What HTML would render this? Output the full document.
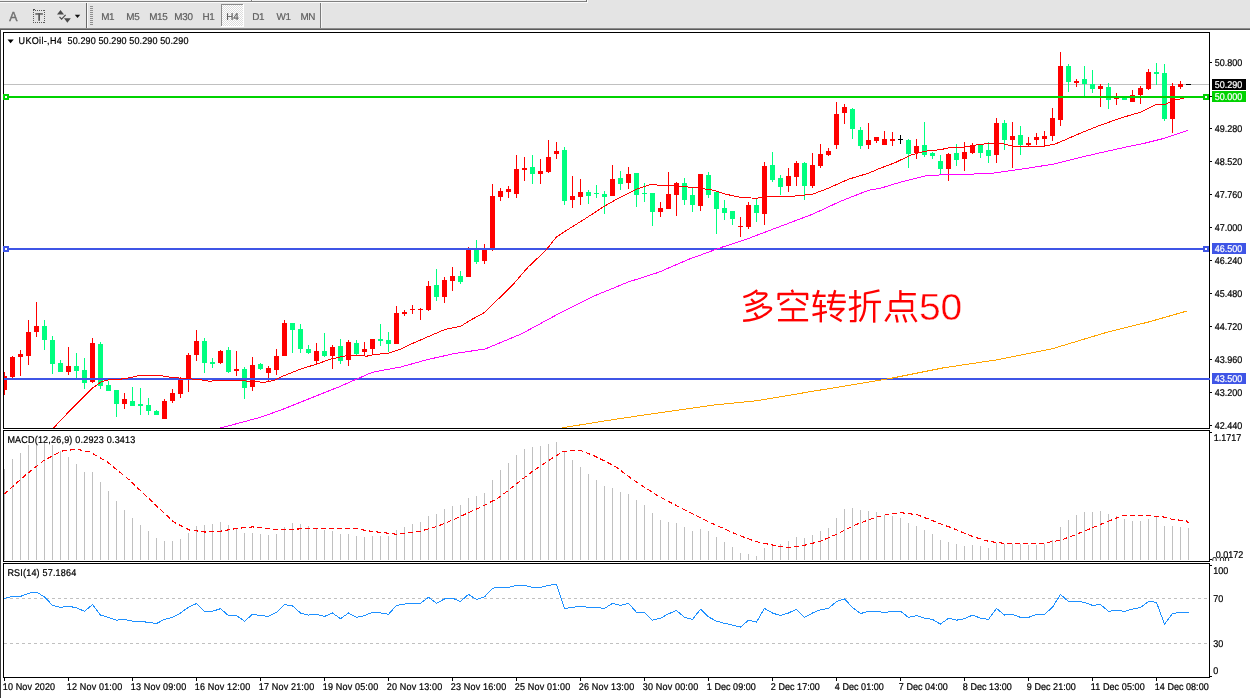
<!DOCTYPE html>
<html><head><meta charset="utf-8"><title>UKOil H4</title>
<style>
html,body{margin:0;padding:0;background:#fff;overflow:hidden}
body{width:1250px;height:698px;font-family:"Liberation Sans",sans-serif}
svg{display:block;font-family:"Liberation Sans",sans-serif;transform:translateZ(0);will-change:transform}
text{white-space:pre}
</style></head><body>
<svg width="1250" height="698" viewBox="0 0 1250 698">
<rect x="0" y="0" width="1250" height="30" fill="#E4E4E4" />
<rect x="0" y="0" width="586" height="1" fill="#F0F0F0" />
<rect x="0" y="1" width="587" height="1" fill="#808080" />
<rect x="0" y="2" width="588" height="1" fill="#FAFAFA" />
<rect x="586" y="0" width="1" height="2" fill="#707070" />
<rect x="587" y="0" width="1" height="3" fill="#FAFAFA" />
<rect x="251" y="0" width="1" height="2" fill="#808080" />
<rect x="252" y="0" width="1" height="1" fill="#FAFAFA" />
<rect x="0" y="28" width="1250" height="1" fill="#8C8C8C" />
<rect x="0" y="29" width="1250" height="1" fill="#5A5A5A" />
<rect x="0" y="30" width="1250" height="668" fill="#FFFFFF" />
<rect x="0" y="30" width="1" height="668" fill="#3A3A3A" />
<text x="9.3" y="20.8" font-size="12.3" fill="#707070" stroke="#707070" stroke-width="0.45" >A</text>
<rect x="33" y="10" width="1" height="1" fill="#5A5A5A" shape-rendering="crispEdges"/>
<rect x="33" y="22" width="1" height="1" fill="#5A5A5A" shape-rendering="crispEdges"/>
<rect x="35" y="10" width="1" height="1" fill="#5A5A5A" shape-rendering="crispEdges"/>
<rect x="35" y="22" width="1" height="1" fill="#5A5A5A" shape-rendering="crispEdges"/>
<rect x="37" y="10" width="1" height="1" fill="#5A5A5A" shape-rendering="crispEdges"/>
<rect x="37" y="22" width="1" height="1" fill="#5A5A5A" shape-rendering="crispEdges"/>
<rect x="39" y="10" width="1" height="1" fill="#5A5A5A" shape-rendering="crispEdges"/>
<rect x="39" y="22" width="1" height="1" fill="#5A5A5A" shape-rendering="crispEdges"/>
<rect x="41" y="10" width="1" height="1" fill="#5A5A5A" shape-rendering="crispEdges"/>
<rect x="41" y="22" width="1" height="1" fill="#5A5A5A" shape-rendering="crispEdges"/>
<rect x="43" y="10" width="1" height="1" fill="#5A5A5A" shape-rendering="crispEdges"/>
<rect x="43" y="22" width="1" height="1" fill="#5A5A5A" shape-rendering="crispEdges"/>
<rect x="33" y="10" width="1" height="1" fill="#5A5A5A" shape-rendering="crispEdges"/>
<rect x="44" y="10" width="1" height="1" fill="#5A5A5A" shape-rendering="crispEdges"/>
<rect x="33" y="12" width="1" height="1" fill="#5A5A5A" shape-rendering="crispEdges"/>
<rect x="44" y="12" width="1" height="1" fill="#5A5A5A" shape-rendering="crispEdges"/>
<rect x="33" y="14" width="1" height="1" fill="#5A5A5A" shape-rendering="crispEdges"/>
<rect x="44" y="14" width="1" height="1" fill="#5A5A5A" shape-rendering="crispEdges"/>
<rect x="33" y="16" width="1" height="1" fill="#5A5A5A" shape-rendering="crispEdges"/>
<rect x="44" y="16" width="1" height="1" fill="#5A5A5A" shape-rendering="crispEdges"/>
<rect x="33" y="18" width="1" height="1" fill="#5A5A5A" shape-rendering="crispEdges"/>
<rect x="44" y="18" width="1" height="1" fill="#5A5A5A" shape-rendering="crispEdges"/>
<rect x="33" y="20" width="1" height="1" fill="#5A5A5A" shape-rendering="crispEdges"/>
<rect x="44" y="20" width="1" height="1" fill="#5A5A5A" shape-rendering="crispEdges"/>
<rect x="33" y="22" width="1" height="1" fill="#5A5A5A" shape-rendering="crispEdges"/>
<rect x="44" y="22" width="1" height="1" fill="#5A5A5A" shape-rendering="crispEdges"/>
<rect x="33" y="9" width="2" height="1" fill="#4A4A4A" />
<rect x="35.3" y="13.2" width="7.6" height="1.5" fill="#5A5A5A" />
<rect x="38.3" y="13.2" width="1.7" height="7.6" fill="#5A5A5A" />
<path d="M57 14.5 L60.5 10 L64 14.5 Z" fill="#4A4A4A"/>
<path d="M64 18.3 L70.8 18.3 L67.4 22.8 Z" fill="#4A4A4A"/>
<path d="M59.5 16.8 L61.6 19.2 L65.6 14.8" fill="none" stroke="#4A4A4A" stroke-width="1.2"/>
<path d="M74.8 14.8 L80.2 14.8 L77.5 18 Z" fill="#111"/>
<rect x="86" y="3" width="1" height="25" fill="#6A6A6A" />
<rect x="87" y="3" width="1" height="25" fill="#F8F8F8" />
<rect x="90" y="6" width="3" height="1" fill="#8E8E8E" />
<rect x="90" y="8" width="3" height="1" fill="#8E8E8E" />
<rect x="90" y="10" width="3" height="1" fill="#8E8E8E" />
<rect x="90" y="12" width="3" height="1" fill="#8E8E8E" />
<rect x="90" y="14" width="3" height="1" fill="#8E8E8E" />
<rect x="90" y="16" width="3" height="1" fill="#8E8E8E" />
<rect x="90" y="18" width="3" height="1" fill="#8E8E8E" />
<rect x="90" y="20" width="3" height="1" fill="#8E8E8E" />
<rect x="90" y="22" width="3" height="1" fill="#8E8E8E" />
<rect x="90" y="24" width="3" height="1" fill="#8E8E8E" />
<defs><pattern id="chk" width="2" height="2" patternUnits="userSpaceOnUse"><rect width="2" height="2" fill="#FFFFFF"/><rect width="1" height="1" fill="#DCDCDC"/><rect x="1" y="1" width="1" height="1" fill="#DCDCDC"/></pattern></defs>
<rect x="221" y="4" width="22" height="23" fill="url(#chk)" />
<rect x="221" y="4" width="22" height="1" fill="#8A8A8A" />
<rect x="221" y="4" width="1" height="23" fill="#8A8A8A" />
<rect x="221" y="26" width="23" height="1" fill="#FFFFFF" />
<rect x="243" y="4" width="1" height="23" fill="#FFFFFF" />
<text x="101.2" y="20" font-size="9.9" fill="#5E5E5E" stroke="#5E5E5E" stroke-width="0.2" letter-spacing="-0.3" text-rendering="geometricPrecision">M1</text>
<text x="126.3" y="20" font-size="9.9" fill="#5E5E5E" stroke="#5E5E5E" stroke-width="0.2" letter-spacing="-0.3" text-rendering="geometricPrecision">M5</text>
<text x="149.2" y="20" font-size="9.9" fill="#5E5E5E" stroke="#5E5E5E" stroke-width="0.2" letter-spacing="-0.3" text-rendering="geometricPrecision">M15</text>
<text x="174.3" y="20" font-size="9.9" fill="#5E5E5E" stroke="#5E5E5E" stroke-width="0.2" letter-spacing="-0.3" text-rendering="geometricPrecision">M30</text>
<text x="202.5" y="20" font-size="9.9" fill="#5E5E5E" stroke="#5E5E5E" stroke-width="0.2" letter-spacing="-0.3" text-rendering="geometricPrecision">H1</text>
<text x="226.3" y="20" font-size="9.9" fill="#5E5E5E" stroke="#5E5E5E" stroke-width="0.2" letter-spacing="-0.3" text-rendering="geometricPrecision">H4</text>
<text x="252.2" y="20" font-size="9.9" fill="#5E5E5E" stroke="#5E5E5E" stroke-width="0.2" letter-spacing="-0.3" text-rendering="geometricPrecision">D1</text>
<text x="276.6" y="20" font-size="9.9" fill="#5E5E5E" stroke="#5E5E5E" stroke-width="0.2" letter-spacing="-0.3" text-rendering="geometricPrecision">W1</text>
<text x="300.4" y="20" font-size="9.9" fill="#5E5E5E" stroke="#5E5E5E" stroke-width="0.2" letter-spacing="-0.3" text-rendering="geometricPrecision">MN</text>
<rect x="320" y="3" width="1" height="25" fill="#7A7A7A" />
<rect x="321" y="3" width="1" height="25" fill="#F4F4F4" />
<rect x="3" y="32" width="1207" height="1" fill="#000" />
<rect x="3" y="32" width="1" height="646" fill="#000" />
<rect x="3" y="428" width="1207" height="1" fill="#000" />
<rect x="3" y="430" width="1207" height="1" fill="#000" />
<rect x="4" y="429" width="1205" height="1" fill="#fff" />
<rect x="3" y="561" width="1207" height="1" fill="#000" />
<rect x="3" y="563" width="1207" height="1" fill="#000" />
<rect x="4" y="562" width="1205" height="1" fill="#fff" />
<rect x="3" y="677" width="1207" height="1" fill="#000" />
<rect x="1209" y="32" width="1" height="646" fill="#000" />
<rect x="1209" y="429" width="1" height="1" fill="#fff" />
<rect x="1209" y="562" width="1" height="1" fill="#fff" />
<rect x="3" y="429" width="1" height="1" fill="#fff" />
<rect x="3" y="562" width="1" height="1" fill="#fff" />
<clipPath id="cm"><rect x="4" y="33" width="1205" height="395"/></clipPath>
<g clip-path="url(#cm)" shape-rendering="crispEdges">
<rect x="4" y="84" width="1205" height="1" fill="#C0C0C0" />
<rect x="4" y="372" width="1" height="23" fill="#FF0000" />
<rect x="2" y="376" width="5" height="14" fill="#FF0000" />
<rect x="12" y="356" width="1" height="22" fill="#FF0000" />
<rect x="10" y="357" width="5" height="20" fill="#FF0000" />
<rect x="20" y="350" width="1" height="26" fill="#FF0000" />
<rect x="18" y="354" width="5" height="3" fill="#FF0000" />
<rect x="28" y="320" width="1" height="45" fill="#FF0000" />
<rect x="26" y="332" width="5" height="24" fill="#FF0000" />
<rect x="36" y="302" width="1" height="35" fill="#FF0000" />
<rect x="34" y="326" width="5" height="6" fill="#FF0000" />
<rect x="44" y="320" width="1" height="30" fill="#00FF7F" />
<rect x="42" y="326" width="5" height="14" fill="#00FF7F" />
<rect x="52" y="336" width="1" height="38" fill="#00FF7F" />
<rect x="50" y="340" width="5" height="24" fill="#00FF7F" />
<rect x="60" y="360" width="1" height="12" fill="#00FF7F" />
<rect x="58" y="363" width="5" height="9" fill="#00FF7F" />
<rect x="68" y="347" width="1" height="28" fill="#FF0000" />
<rect x="66" y="366" width="5" height="6" fill="#FF0000" />
<rect x="76" y="353" width="1" height="25" fill="#00FF7F" />
<rect x="74" y="366" width="5" height="5" fill="#00FF7F" />
<rect x="84" y="358" width="1" height="31" fill="#00FF7F" />
<rect x="82" y="370" width="5" height="13" fill="#00FF7F" />
<rect x="92" y="338" width="1" height="45" fill="#FF0000" />
<rect x="90" y="343" width="5" height="39" fill="#FF0000" />
<rect x="100" y="342" width="1" height="47" fill="#00FF7F" />
<rect x="98" y="344" width="5" height="42" fill="#00FF7F" />
<rect x="108" y="381" width="1" height="10" fill="#00FF7F" />
<rect x="106" y="385" width="5" height="6" fill="#00FF7F" />
<rect x="116" y="390" width="1" height="27" fill="#00FF7F" />
<rect x="114" y="390" width="5" height="14" fill="#00FF7F" />
<rect x="124" y="393" width="1" height="16" fill="#FF0000" />
<rect x="122" y="399" width="5" height="5" fill="#FF0000" />
<rect x="132" y="387" width="1" height="19" fill="#00FF7F" />
<rect x="130" y="401" width="5" height="5" fill="#00FF7F" />
<rect x="140" y="388" width="1" height="27" fill="#00FF7F" />
<rect x="138" y="404" width="5" height="2" fill="#00FF7F" />
<rect x="148" y="398" width="1" height="17" fill="#00FF7F" />
<rect x="146" y="405" width="5" height="6" fill="#00FF7F" />
<rect x="156" y="410" width="1" height="5" fill="#00FF7F" />
<rect x="154" y="411" width="5" height="4" fill="#00FF7F" />
<rect x="164" y="399" width="1" height="20" fill="#FF0000" />
<rect x="162" y="401" width="5" height="18" fill="#FF0000" />
<rect x="172" y="389" width="1" height="14" fill="#FF0000" />
<rect x="170" y="393" width="5" height="8" fill="#FF0000" />
<rect x="180" y="377" width="1" height="21" fill="#FF0000" />
<rect x="178" y="379" width="5" height="15" fill="#FF0000" />
<rect x="188" y="353" width="1" height="39" fill="#FF0000" />
<rect x="186" y="355" width="5" height="24" fill="#FF0000" />
<rect x="196" y="330" width="1" height="31" fill="#FF0000" />
<rect x="194" y="341" width="5" height="14" fill="#FF0000" />
<rect x="204" y="338" width="1" height="35" fill="#00FF7F" />
<rect x="202" y="341" width="5" height="22" fill="#00FF7F" />
<rect x="212" y="358" width="1" height="10" fill="#00FF7F" />
<rect x="210" y="362" width="5" height="2" fill="#00FF7F" />
<rect x="220" y="350" width="1" height="14" fill="#FF0000" />
<rect x="218" y="351" width="5" height="12" fill="#FF0000" />
<rect x="228" y="347" width="1" height="26" fill="#00FF7F" />
<rect x="226" y="350" width="5" height="22" fill="#00FF7F" />
<rect x="236" y="351" width="1" height="25" fill="#FF0000" />
<rect x="234" y="369" width="5" height="2" fill="#FF0000" />
<rect x="244" y="367" width="1" height="32" fill="#00FF7F" />
<rect x="242" y="369" width="5" height="19" fill="#00FF7F" />
<rect x="252" y="357" width="1" height="34" fill="#FF0000" />
<rect x="250" y="365" width="5" height="22" fill="#FF0000" />
<rect x="260" y="363" width="1" height="7" fill="#00FF7F" />
<rect x="258" y="364" width="5" height="5" fill="#00FF7F" />
<rect x="268" y="366" width="1" height="15" fill="#FF0000" />
<rect x="266" y="368" width="5" height="5" fill="#FF0000" />
<rect x="276" y="349" width="1" height="26" fill="#FF0000" />
<rect x="274" y="356" width="5" height="14" fill="#FF0000" />
<rect x="284" y="320" width="1" height="36" fill="#FF0000" />
<rect x="282" y="323" width="5" height="33" fill="#FF0000" />
<rect x="292" y="323" width="1" height="30" fill="#00FF7F" />
<rect x="290" y="323" width="5" height="7" fill="#00FF7F" />
<rect x="300" y="324" width="1" height="29" fill="#00FF7F" />
<rect x="298" y="329" width="5" height="20" fill="#00FF7F" />
<rect x="308" y="345" width="1" height="9" fill="#00FF7F" />
<rect x="306" y="349" width="5" height="4" fill="#00FF7F" />
<rect x="316" y="343" width="1" height="22" fill="#FF0000" />
<rect x="314" y="351" width="5" height="10" fill="#FF0000" />
<rect x="324" y="333" width="1" height="24" fill="#00FF7F" />
<rect x="322" y="351" width="5" height="5" fill="#00FF7F" />
<rect x="332" y="345" width="1" height="24" fill="#FF0000" />
<rect x="330" y="347" width="5" height="9" fill="#FF0000" />
<rect x="340" y="339" width="1" height="25" fill="#00FF7F" />
<rect x="338" y="346" width="5" height="15" fill="#00FF7F" />
<rect x="348" y="340" width="1" height="26" fill="#FF0000" />
<rect x="346" y="342" width="5" height="18" fill="#FF0000" />
<rect x="356" y="340" width="1" height="15" fill="#00FF7F" />
<rect x="354" y="343" width="5" height="11" fill="#00FF7F" />
<rect x="364" y="342" width="1" height="14" fill="#FF0000" />
<rect x="362" y="349" width="5" height="3" fill="#FF0000" />
<rect x="372" y="339" width="1" height="16" fill="#FF0000" />
<rect x="370" y="339" width="5" height="10" fill="#FF0000" />
<rect x="380" y="324" width="1" height="22" fill="#00FF7F" />
<rect x="378" y="339" width="5" height="2" fill="#00FF7F" />
<rect x="388" y="332" width="1" height="20" fill="#00FF7F" />
<rect x="386" y="340" width="5" height="4" fill="#00FF7F" />
<rect x="396" y="306" width="1" height="38" fill="#FF0000" />
<rect x="394" y="313" width="5" height="31" fill="#FF0000" />
<rect x="404" y="310" width="1" height="6" fill="#FF0000" />
<rect x="402" y="312" width="5" height="2" fill="#FF0000" />
<rect x="412" y="305" width="1" height="9" fill="#FF0000" />
<rect x="410" y="309" width="5" height="1" fill="#FF0000" />
<rect x="420" y="308" width="1" height="12" fill="#FF0000" />
<rect x="418" y="309" width="5" height="1" fill="#FF0000" />
<rect x="428" y="281" width="1" height="30" fill="#FF0000" />
<rect x="426" y="286" width="5" height="24" fill="#FF0000" />
<rect x="436" y="269" width="1" height="32" fill="#00FF7F" />
<rect x="434" y="285" width="5" height="12" fill="#00FF7F" />
<rect x="444" y="277" width="1" height="26" fill="#FF0000" />
<rect x="442" y="280" width="5" height="17" fill="#FF0000" />
<rect x="452" y="267" width="1" height="24" fill="#FF0000" />
<rect x="450" y="276" width="5" height="5" fill="#FF0000" />
<rect x="460" y="271" width="1" height="13" fill="#00FF7F" />
<rect x="458" y="276" width="5" height="6" fill="#00FF7F" />
<rect x="468" y="247" width="1" height="30" fill="#FF0000" />
<rect x="466" y="249" width="5" height="28" fill="#FF0000" />
<rect x="476" y="240" width="1" height="24" fill="#00FF7F" />
<rect x="474" y="249" width="5" height="13" fill="#00FF7F" />
<rect x="484" y="244" width="1" height="20" fill="#FF0000" />
<rect x="482" y="249" width="5" height="12" fill="#FF0000" />
<rect x="492" y="184" width="1" height="67" fill="#FF0000" />
<rect x="490" y="196" width="5" height="52" fill="#FF0000" />
<rect x="500" y="188" width="1" height="13" fill="#FF0000" />
<rect x="498" y="191" width="5" height="6" fill="#FF0000" />
<rect x="508" y="186" width="1" height="12" fill="#FF0000" />
<rect x="506" y="189" width="5" height="3" fill="#FF0000" />
<rect x="516" y="155" width="1" height="43" fill="#FF0000" />
<rect x="514" y="169" width="5" height="25" fill="#FF0000" />
<rect x="524" y="157" width="1" height="24" fill="#FF0000" />
<rect x="522" y="168" width="5" height="2" fill="#FF0000" />
<rect x="532" y="155" width="1" height="29" fill="#00FF7F" />
<rect x="530" y="167" width="5" height="7" fill="#00FF7F" />
<rect x="540" y="159" width="1" height="25" fill="#FF0000" />
<rect x="538" y="171" width="5" height="3" fill="#FF0000" />
<rect x="548" y="140" width="1" height="33" fill="#FF0000" />
<rect x="546" y="157" width="5" height="15" fill="#FF0000" />
<rect x="556" y="142" width="1" height="17" fill="#FF0000" />
<rect x="554" y="151" width="5" height="3" fill="#FF0000" />
<rect x="564" y="147" width="1" height="58" fill="#00FF7F" />
<rect x="562" y="150" width="5" height="51" fill="#00FF7F" />
<rect x="572" y="176" width="1" height="32" fill="#FF0000" />
<rect x="570" y="196" width="5" height="4" fill="#FF0000" />
<rect x="580" y="179" width="1" height="26" fill="#FF0000" />
<rect x="578" y="192" width="5" height="5" fill="#FF0000" />
<rect x="588" y="190" width="1" height="14" fill="#00FF7F" />
<rect x="586" y="192" width="5" height="4" fill="#00FF7F" />
<rect x="596" y="185" width="1" height="13" fill="#00FF7F" />
<rect x="594" y="193" width="5" height="1" fill="#00FF7F" />
<rect x="604" y="191" width="1" height="23" fill="#00FF7F" />
<rect x="602" y="194" width="5" height="3" fill="#00FF7F" />
<rect x="612" y="165" width="1" height="31" fill="#FF0000" />
<rect x="610" y="179" width="5" height="17" fill="#FF0000" />
<rect x="620" y="171" width="1" height="19" fill="#00FF7F" />
<rect x="618" y="178" width="5" height="6" fill="#00FF7F" />
<rect x="628" y="167" width="1" height="22" fill="#FF0000" />
<rect x="626" y="174" width="5" height="9" fill="#FF0000" />
<rect x="636" y="173" width="1" height="34" fill="#00FF7F" />
<rect x="634" y="173" width="5" height="22" fill="#00FF7F" />
<rect x="644" y="183" width="1" height="19" fill="#00FF7F" />
<rect x="642" y="193" width="5" height="1" fill="#00FF7F" />
<rect x="652" y="193" width="1" height="33" fill="#00FF7F" />
<rect x="650" y="193" width="5" height="19" fill="#00FF7F" />
<rect x="660" y="202" width="1" height="15" fill="#FF0000" />
<rect x="658" y="208" width="5" height="4" fill="#FF0000" />
<rect x="668" y="172" width="1" height="37" fill="#FF0000" />
<rect x="666" y="194" width="5" height="15" fill="#FF0000" />
<rect x="676" y="182" width="1" height="34" fill="#FF0000" />
<rect x="674" y="183" width="5" height="12" fill="#FF0000" />
<rect x="684" y="178" width="1" height="27" fill="#00FF7F" />
<rect x="682" y="183" width="5" height="17" fill="#00FF7F" />
<rect x="692" y="187" width="1" height="25" fill="#00FF7F" />
<rect x="690" y="195" width="5" height="10" fill="#00FF7F" />
<rect x="700" y="174" width="1" height="37" fill="#FF0000" />
<rect x="698" y="174" width="5" height="32" fill="#FF0000" />
<rect x="708" y="172" width="1" height="26" fill="#00FF7F" />
<rect x="706" y="175" width="5" height="20" fill="#00FF7F" />
<rect x="716" y="192" width="1" height="42" fill="#00FF7F" />
<rect x="714" y="192" width="5" height="17" fill="#00FF7F" />
<rect x="724" y="200" width="1" height="20" fill="#00FF7F" />
<rect x="722" y="208" width="5" height="5" fill="#00FF7F" />
<rect x="732" y="211" width="1" height="14" fill="#00FF7F" />
<rect x="730" y="211" width="5" height="8" fill="#00FF7F" />
<rect x="740" y="217" width="1" height="20" fill="#FF0000" />
<rect x="738" y="226" width="5" height="1" fill="#FF0000" />
<rect x="748" y="202" width="1" height="27" fill="#FF0000" />
<rect x="746" y="205" width="5" height="22" fill="#FF0000" />
<rect x="756" y="199" width="1" height="23" fill="#00FF7F" />
<rect x="754" y="205" width="5" height="8" fill="#00FF7F" />
<rect x="764" y="162" width="1" height="63" fill="#FF0000" />
<rect x="762" y="166" width="5" height="48" fill="#FF0000" />
<rect x="772" y="152" width="1" height="30" fill="#00FF7F" />
<rect x="770" y="165" width="5" height="15" fill="#00FF7F" />
<rect x="780" y="175" width="1" height="20" fill="#00FF7F" />
<rect x="778" y="178" width="5" height="9" fill="#00FF7F" />
<rect x="788" y="168" width="1" height="24" fill="#FF0000" />
<rect x="786" y="176" width="5" height="10" fill="#FF0000" />
<rect x="796" y="161" width="1" height="25" fill="#FF0000" />
<rect x="794" y="163" width="5" height="14" fill="#FF0000" />
<rect x="804" y="162" width="1" height="38" fill="#00FF7F" />
<rect x="802" y="163" width="5" height="23" fill="#00FF7F" />
<rect x="812" y="153" width="1" height="35" fill="#FF0000" />
<rect x="810" y="165" width="5" height="21" fill="#FF0000" />
<rect x="820" y="144" width="1" height="24" fill="#FF0000" />
<rect x="818" y="154" width="5" height="12" fill="#FF0000" />
<rect x="828" y="148" width="1" height="8" fill="#FF0000" />
<rect x="826" y="151" width="5" height="4" fill="#FF0000" />
<rect x="836" y="102" width="1" height="47" fill="#FF0000" />
<rect x="834" y="114" width="5" height="31" fill="#FF0000" />
<rect x="844" y="104" width="1" height="20" fill="#FF0000" />
<rect x="842" y="107" width="5" height="6" fill="#FF0000" />
<rect x="852" y="108" width="1" height="31" fill="#00FF7F" />
<rect x="850" y="109" width="5" height="20" fill="#00FF7F" />
<rect x="860" y="127" width="1" height="22" fill="#00FF7F" />
<rect x="858" y="130" width="5" height="16" fill="#00FF7F" />
<rect x="868" y="123" width="1" height="26" fill="#FF0000" />
<rect x="866" y="140" width="5" height="5" fill="#FF0000" />
<rect x="876" y="137" width="1" height="6" fill="#FF0000" />
<rect x="874" y="137" width="5" height="4" fill="#FF0000" />
<rect x="884" y="131" width="1" height="14" fill="#FF0000" />
<rect x="882" y="139" width="5" height="6" fill="#FF0000" />
<rect x="892" y="132" width="1" height="14" fill="#FF0000" />
<rect x="890" y="139" width="5" height="2" fill="#FF0000" />
<rect x="900" y="135" width="1" height="9" fill="#000" />
<rect x="898" y="139" width="5" height="1" fill="#000" />
<rect x="908" y="139" width="1" height="29" fill="#00FF7F" />
<rect x="906" y="140" width="5" height="14" fill="#00FF7F" />
<rect x="916" y="139" width="1" height="20" fill="#FF0000" />
<rect x="914" y="146" width="5" height="7" fill="#FF0000" />
<rect x="924" y="122" width="1" height="35" fill="#00FF7F" />
<rect x="922" y="145" width="5" height="10" fill="#00FF7F" />
<rect x="932" y="152" width="1" height="7" fill="#00FF7F" />
<rect x="930" y="153" width="5" height="3" fill="#00FF7F" />
<rect x="940" y="155" width="1" height="19" fill="#00FF7F" />
<rect x="938" y="161" width="5" height="8" fill="#00FF7F" />
<rect x="948" y="153" width="1" height="28" fill="#FF0000" />
<rect x="946" y="154" width="5" height="15" fill="#FF0000" />
<rect x="956" y="144" width="1" height="22" fill="#00FF7F" />
<rect x="954" y="153" width="5" height="7" fill="#00FF7F" />
<rect x="964" y="142" width="1" height="29" fill="#FF0000" />
<rect x="962" y="152" width="5" height="7" fill="#FF0000" />
<rect x="972" y="143" width="1" height="11" fill="#FF0000" />
<rect x="970" y="145" width="5" height="8" fill="#FF0000" />
<rect x="980" y="145" width="1" height="13" fill="#00FF7F" />
<rect x="978" y="145" width="5" height="8" fill="#00FF7F" />
<rect x="988" y="142" width="1" height="21" fill="#00FF7F" />
<rect x="986" y="150" width="5" height="6" fill="#00FF7F" />
<rect x="996" y="118" width="1" height="45" fill="#FF0000" />
<rect x="994" y="123" width="5" height="32" fill="#FF0000" />
<rect x="1004" y="120" width="1" height="30" fill="#00FF7F" />
<rect x="1002" y="123" width="5" height="17" fill="#00FF7F" />
<rect x="1012" y="122" width="1" height="46" fill="#FF0000" />
<rect x="1010" y="136" width="5" height="4" fill="#FF0000" />
<rect x="1020" y="126" width="1" height="29" fill="#00FF7F" />
<rect x="1018" y="135" width="5" height="10" fill="#00FF7F" />
<rect x="1028" y="137" width="1" height="10" fill="#FF0000" />
<rect x="1026" y="143" width="5" height="2" fill="#FF0000" />
<rect x="1036" y="133" width="1" height="12" fill="#FF0000" />
<rect x="1034" y="137" width="5" height="3" fill="#FF0000" />
<rect x="1044" y="131" width="1" height="16" fill="#FF0000" />
<rect x="1042" y="136" width="5" height="3" fill="#FF0000" />
<rect x="1052" y="108" width="1" height="33" fill="#FF0000" />
<rect x="1050" y="118" width="5" height="18" fill="#FF0000" />
<rect x="1060" y="52" width="1" height="74" fill="#FF0000" />
<rect x="1058" y="66" width="5" height="54" fill="#FF0000" />
<rect x="1068" y="64" width="1" height="28" fill="#00FF7F" />
<rect x="1066" y="66" width="5" height="16" fill="#00FF7F" />
<rect x="1076" y="79" width="1" height="8" fill="#FF0000" />
<rect x="1074" y="81" width="5" height="2" fill="#FF0000" />
<rect x="1084" y="66" width="1" height="31" fill="#00FF7F" />
<rect x="1082" y="79" width="5" height="5" fill="#00FF7F" />
<rect x="1092" y="70" width="1" height="23" fill="#00FF7F" />
<rect x="1090" y="84" width="5" height="5" fill="#00FF7F" />
<rect x="1100" y="84" width="1" height="23" fill="#FF0000" />
<rect x="1098" y="86" width="5" height="3" fill="#FF0000" />
<rect x="1108" y="83" width="1" height="26" fill="#00FF7F" />
<rect x="1106" y="87" width="5" height="13" fill="#00FF7F" />
<rect x="1116" y="93" width="1" height="12" fill="#FF0000" />
<rect x="1114" y="97" width="5" height="2" fill="#FF0000" />
<rect x="1124" y="98" width="1" height="2" fill="#00FF7F" />
<rect x="1122" y="98" width="5" height="2" fill="#00FF7F" />
<rect x="1132" y="90" width="1" height="12" fill="#FF0000" />
<rect x="1130" y="95" width="5" height="7" fill="#FF0000" />
<rect x="1140" y="86" width="1" height="18" fill="#FF0000" />
<rect x="1138" y="88" width="5" height="7" fill="#FF0000" />
<rect x="1148" y="69" width="1" height="21" fill="#FF0000" />
<rect x="1146" y="72" width="5" height="17" fill="#FF0000" />
<rect x="1156" y="63" width="1" height="22" fill="#00FF7F" />
<rect x="1154" y="72" width="5" height="2" fill="#00FF7F" />
<rect x="1164" y="64" width="1" height="57" fill="#00FF7F" />
<rect x="1162" y="73" width="5" height="46" fill="#00FF7F" />
<rect x="1172" y="83" width="1" height="50" fill="#FF0000" />
<rect x="1170" y="86" width="5" height="33" fill="#FF0000" />
<rect x="1180" y="81" width="1" height="8" fill="#FF0000" />
<rect x="1178" y="84" width="5" height="3" fill="#FF0000" />
<rect x="1186" y="84" width="5" height="1" fill="#000" />
<rect x="4" y="96" width="1205" height="2" fill="#00D200" />
<rect x="4" y="248" width="1205" height="2" fill="#3F55E6" />
<rect x="4" y="378" width="1205" height="2" fill="#3F55E6" />
</g>
<g clip-path="url(#cm)" shape-rendering="crispEdges">
<polyline points="561.8,427.9 605.3,420.8 648.8,414.3 714.0,405.0 757.6,400.6 812.0,391.4 888.0,378.9 942.6,368.0 997.0,359.8 1051.4,349.0 1105.8,332.6 1149.3,321.8 1187.4,310.9" fill="none" stroke="#FFA500" stroke-width="1"/>
<polyline points="219.0,428.4 260.2,417.4 280.2,410.3 300.3,402.3 320.3,394.3 340.4,386.3 356.4,379.2 372.5,372.2 388.5,369.2 400.0,367.2 427.4,359.6 454.7,353.5 485.1,349.0 521.6,333.8 558.1,314.0 594.6,295.8 628.0,282.1 658.4,272.4 688.8,259.3 722.3,247.1 749.7,238.0 780.3,226.4 812.4,214.3 840.4,201.3 868.5,190.3 880.0,188.4 900.0,182.3 928.1,175.3 966.2,174.3 992.3,173.3 1020.4,169.3 1052.5,164.3 1080.1,157.4 1120.2,148.3 1144.3,143.3 1164.3,138.3 1176.4,134.3 1188.0,130.3" fill="none" stroke="#FF00FF" stroke-width="1"/>
<polyline points="53.1,428.4 70.2,410.3 80.2,400.3 92.3,388.3 100.3,382.3 108.3,379.8 120.3,379.2 130.4,377.6 140.4,375.2 158.4,375.2 170.5,377.2 180.5,378.2 200.0,379.6 210.0,381.3 216.0,380.3 240.1,380.3 248.1,381.3 258.2,381.3 262.2,382.7 269.2,381.3 274.2,380.3 280.2,377.2 300.3,369.2 316.3,364.2 330.4,359.2 348.4,355.2 360.4,355.2 366.5,356.2 374.5,354.6 388.5,353.2 400.6,349.2 410.0,344.6 424.3,338.3 445.6,329.2 460.8,326.2 470.0,320.4 483.6,313.1 498.0,299.3 512.5,285.1 528.0,267.2 546.0,250.2 556.4,237.0 568.2,229.3 584.3,219.3 604.3,206.2 620.4,197.2 636.4,189.2 650.5,184.6 660.5,185.2 680.0,186.2 700.0,188.2 714.1,190.3 726.1,194.3 740.2,197.3 756.2,198.3 768.2,196.7 792.3,196.3 812.4,194.3 828.4,188.2 848.5,179.2 868.5,173.2 880.0,168.3 896.0,162.3 910.1,155.3 924.1,151.3 940.2,149.7 952.2,147.2 964.2,147.2 980.3,144.2 1000.3,143.2 1012.4,146.2 1044.5,146.2 1054.5,144.2 1064.1,140.3 1080.1,133.3 1100.2,125.3 1120.2,118.2 1140.3,112.2 1156.3,104.2 1165.3,104.2 1174.4,100.2 1184.4,98.2" fill="none" stroke="#FF0000" stroke-width="1"/>
</g>
<rect x="3" y="94" width="6" height="6" fill="#00D200" shape-rendering="crispEdges"/>
<rect x="5" y="96" width="2" height="2" fill="#fff" shape-rendering="crispEdges"/>
<rect x="1203" y="94" width="6" height="6" fill="#00D200" shape-rendering="crispEdges"/>
<rect x="1205" y="96" width="2" height="2" fill="#fff" shape-rendering="crispEdges"/>
<rect x="3" y="246" width="6" height="6" fill="#3F55E6" shape-rendering="crispEdges"/>
<rect x="5" y="248" width="2" height="2" fill="#fff" shape-rendering="crispEdges"/>
<rect x="1203" y="246" width="6" height="6" fill="#3F55E6" shape-rendering="crispEdges"/>
<rect x="1205" y="248" width="2" height="2" fill="#fff" shape-rendering="crispEdges"/>
<rect x="1209" y="378" width="1" height="2" fill="#3F55E6" />
<path d="M7.5 39.5 L13.7 39.5 L10.6 43.2 Z" fill="#000"/>
<text transform="translate(18.6,44) scale(0.92,1)" font-size="9.8" fill="#000" stroke="#000" stroke-width="0.22" text-rendering="geometricPrecision" letter-spacing="0.36">UKOil-,H4</text>
<text transform="translate(67.5,44) scale(0.92,1)" font-size="9.8" fill="#000" stroke="#000" stroke-width="0.22" text-rendering="geometricPrecision" letter-spacing="0.13">50.290 50.290 50.290 50.290</text>
<rect x="1210" y="62" width="2" height="1" fill="#000" />
<text transform="translate(1214.8,66) scale(0.92,1)" font-size="9.8" fill="#000" stroke="#000" stroke-width="0.22" text-rendering="geometricPrecision" >50.800</text>
<rect x="1210" y="128" width="2" height="1" fill="#000" />
<text transform="translate(1214.8,132) scale(0.92,1)" font-size="9.8" fill="#000" stroke="#000" stroke-width="0.22" text-rendering="geometricPrecision" >49.280</text>
<rect x="1210" y="161" width="2" height="1" fill="#000" />
<text transform="translate(1214.8,165) scale(0.92,1)" font-size="9.8" fill="#000" stroke="#000" stroke-width="0.22" text-rendering="geometricPrecision" >48.520</text>
<rect x="1210" y="194" width="2" height="1" fill="#000" />
<text transform="translate(1214.8,198) scale(0.92,1)" font-size="9.8" fill="#000" stroke="#000" stroke-width="0.22" text-rendering="geometricPrecision" >47.760</text>
<rect x="1210" y="227" width="2" height="1" fill="#000" />
<text transform="translate(1214.8,231) scale(0.92,1)" font-size="9.8" fill="#000" stroke="#000" stroke-width="0.22" text-rendering="geometricPrecision" >47.000</text>
<rect x="1210" y="260" width="2" height="1" fill="#000" />
<text transform="translate(1214.8,264) scale(0.92,1)" font-size="9.8" fill="#000" stroke="#000" stroke-width="0.22" text-rendering="geometricPrecision" >46.240</text>
<rect x="1210" y="293" width="2" height="1" fill="#000" />
<text transform="translate(1214.8,297) scale(0.92,1)" font-size="9.8" fill="#000" stroke="#000" stroke-width="0.22" text-rendering="geometricPrecision" >45.480</text>
<rect x="1210" y="326" width="2" height="1" fill="#000" />
<text transform="translate(1214.8,330) scale(0.92,1)" font-size="9.8" fill="#000" stroke="#000" stroke-width="0.22" text-rendering="geometricPrecision" >44.720</text>
<rect x="1210" y="359" width="2" height="1" fill="#000" />
<text transform="translate(1214.8,363) scale(0.92,1)" font-size="9.8" fill="#000" stroke="#000" stroke-width="0.22" text-rendering="geometricPrecision" >43.960</text>
<rect x="1210" y="392" width="2" height="1" fill="#000" />
<text transform="translate(1214.8,396) scale(0.92,1)" font-size="9.8" fill="#000" stroke="#000" stroke-width="0.22" text-rendering="geometricPrecision" >43.200</text>
<rect x="1210" y="425" width="2" height="1" fill="#000" />
<text transform="translate(1214.8,429) scale(0.92,1)" font-size="9.8" fill="#000" stroke="#000" stroke-width="0.22" text-rendering="geometricPrecision" >42.440</text>
<rect x="1212" y="79" width="34" height="11" fill="#000" />
<text transform="translate(1214.8,88) scale(0.92,1)" font-size="9.8" fill="#fff" stroke="#fff" stroke-width="0.22" text-rendering="geometricPrecision" >50.290</text>
<rect x="1212" y="91" width="34" height="11" fill="#00D200" />
<text transform="translate(1214.8,100) scale(0.92,1)" font-size="9.8" fill="#fff" stroke="#fff" stroke-width="0.22" text-rendering="geometricPrecision" >50.000</text>
<rect x="1212" y="243" width="34" height="11" fill="#3F55E6" />
<text transform="translate(1214.8,252) scale(0.92,1)" font-size="9.8" fill="#fff" stroke="#fff" stroke-width="0.22" text-rendering="geometricPrecision" >46.500</text>
<rect x="1212" y="373" width="34" height="11" fill="#3F55E6" />
<text transform="translate(1214.8,382) scale(0.92,1)" font-size="9.8" fill="#fff" stroke="#fff" stroke-width="0.22" text-rendering="geometricPrecision" >43.500</text>
<rect x="1210" y="96" width="2" height="1" fill="#000" />
<g fill="none" stroke="#FF0000" stroke-width="2.4" stroke-linecap="butt" stroke-linejoin="round">
<path d="M757.2 290.1 Q752 295 743.4 297.1"/>
<path d="M756 293.5 L764.2 293.5 Q767.6 293.5 765.8 296.3 Q759.5 303.3 745.4 305.1"/>
<path d="M751.1 299 L754.6 302.6"/>
<path d="M763.6 303.8 Q757 308.8 746.3 311.5"/>
<path d="M762.2 307.3 L768.8 307.4 Q772.2 307.5 770.4 310.3 Q762 319.3 743.1 320.8"/>
<path d="M754.6 312.8 L757.8 317.3"/>
<path d="M791.8 289.8 L793 292.6"/>
<path d="M778.6 299.9 L778.6 294 L807.1 294 L807.1 299.9"/>
<path d="M789.2 299 L779.9 304.8"/>
<path d="M795.9 298.7 L805.8 305.1"/>
<path d="M781.2 309.3 L804.9 309.3"/>
<path d="M793 309.3 L793 320.2"/>
<path d="M778 320.2 L808.1 320.2"/>
<path d="M812.5 295.8 L825.6 295.8"/>
<path d="M818.6 290.1 L813.8 306.1 L825.9 306.1"/>
<path d="M820.8 300 L820.8 322.4"/>
<path d="M812.5 315 L826.9 311.8"/>
<path d="M828.2 295.5 L844.8 295.5"/>
<path d="M826.9 301.9 L845.8 301.9"/>
<path d="M835.2 290.1 L830.4 309 L843.5 309 L836.2 316"/>
<path d="M830.4 314.7 L841.6 321.1"/>
<path d="M849 297.4 L861.1 297.4"/>
<path d="M855.4 290.1 L855.4 321.1 L849.9 321.1"/>
<path d="M849 309.9 L861.1 305.1"/>
<path d="M879.4 290.4 Q872 292.5 864.3 293.6"/>
<path d="M865 293.2 L865 306.4 Q864.5 315 859.8 321.4"/>
<path d="M865 301.9 L881 301.9"/>
<path d="M874.2 301.9 L874.2 322.7"/>
<path d="M900.4 290.1 L900.4 301"/>
<path d="M900.4 294.2 L915.8 294.2"/>
<path d="M890.6 301.2 L912 301.2 L912 310.8 L890.6 310.8 Z"/>
<path d="M890.2 313.8 L885.4 321.4"/>
<path d="M896 314.7 L897.6 322.4"/>
<path d="M903.4 314.4 L906.2 322.4"/>
<path d="M911.4 313.8 L916.5 321.8"/>
</g>
<text x="918.9" y="319.8" font-size="37.6" fill="#FF0000" stroke="#FFFFFF" stroke-width="0.45" textLength="43.4" lengthAdjust="spacingAndGlyphs">50</text>
<clipPath id="cd"><rect x="4" y="431" width="1205" height="130"/></clipPath>
<g clip-path="url(#cd)" shape-rendering="crispEdges">
<rect x="4" y="469" width="1" height="91" fill="#C0C0C0" />
<rect x="12" y="459" width="1" height="101" fill="#C0C0C0" />
<rect x="20" y="453" width="1" height="107" fill="#C0C0C0" />
<rect x="28" y="445" width="1" height="115" fill="#C0C0C0" />
<rect x="36" y="443" width="1" height="117" fill="#C0C0C0" />
<rect x="44" y="443" width="1" height="117" fill="#C0C0C0" />
<rect x="52" y="445" width="1" height="115" fill="#C0C0C0" />
<rect x="60" y="451" width="1" height="109" fill="#C0C0C0" />
<rect x="68" y="457" width="1" height="103" fill="#C0C0C0" />
<rect x="76" y="464" width="1" height="96" fill="#C0C0C0" />
<rect x="84" y="472" width="1" height="88" fill="#C0C0C0" />
<rect x="92" y="472" width="1" height="88" fill="#C0C0C0" />
<rect x="100" y="482" width="1" height="78" fill="#C0C0C0" />
<rect x="108" y="491" width="1" height="69" fill="#C0C0C0" />
<rect x="116" y="501" width="1" height="59" fill="#C0C0C0" />
<rect x="124" y="510" width="1" height="50" fill="#C0C0C0" />
<rect x="132" y="518" width="1" height="42" fill="#C0C0C0" />
<rect x="140" y="525" width="1" height="35" fill="#C0C0C0" />
<rect x="148" y="531" width="1" height="29" fill="#C0C0C0" />
<rect x="156" y="538" width="1" height="22" fill="#C0C0C0" />
<rect x="164" y="541" width="1" height="19" fill="#C0C0C0" />
<rect x="172" y="541" width="1" height="19" fill="#C0C0C0" />
<rect x="180" y="539" width="1" height="21" fill="#C0C0C0" />
<rect x="188" y="533" width="1" height="27" fill="#C0C0C0" />
<rect x="196" y="526" width="1" height="34" fill="#C0C0C0" />
<rect x="204" y="525" width="1" height="35" fill="#C0C0C0" />
<rect x="212" y="524" width="1" height="36" fill="#C0C0C0" />
<rect x="220" y="522" width="1" height="38" fill="#C0C0C0" />
<rect x="228" y="525" width="1" height="35" fill="#C0C0C0" />
<rect x="236" y="529" width="1" height="31" fill="#C0C0C0" />
<rect x="244" y="533" width="1" height="27" fill="#C0C0C0" />
<rect x="252" y="533" width="1" height="27" fill="#C0C0C0" />
<rect x="260" y="534" width="1" height="26" fill="#C0C0C0" />
<rect x="268" y="535" width="1" height="25" fill="#C0C0C0" />
<rect x="276" y="534" width="1" height="26" fill="#C0C0C0" />
<rect x="284" y="527" width="1" height="33" fill="#C0C0C0" />
<rect x="292" y="523" width="1" height="37" fill="#C0C0C0" />
<rect x="300" y="524" width="1" height="36" fill="#C0C0C0" />
<rect x="308" y="526" width="1" height="34" fill="#C0C0C0" />
<rect x="316" y="529" width="1" height="31" fill="#C0C0C0" />
<rect x="324" y="530" width="1" height="30" fill="#C0C0C0" />
<rect x="332" y="531" width="1" height="29" fill="#C0C0C0" />
<rect x="340" y="534" width="1" height="26" fill="#C0C0C0" />
<rect x="348" y="534" width="1" height="26" fill="#C0C0C0" />
<rect x="356" y="536" width="1" height="24" fill="#C0C0C0" />
<rect x="364" y="537" width="1" height="23" fill="#C0C0C0" />
<rect x="372" y="536" width="1" height="24" fill="#C0C0C0" />
<rect x="380" y="536" width="1" height="24" fill="#C0C0C0" />
<rect x="388" y="536" width="1" height="24" fill="#C0C0C0" />
<rect x="396" y="530" width="1" height="30" fill="#C0C0C0" />
<rect x="404" y="527" width="1" height="33" fill="#C0C0C0" />
<rect x="412" y="524" width="1" height="36" fill="#C0C0C0" />
<rect x="420" y="522" width="1" height="38" fill="#C0C0C0" />
<rect x="428" y="516" width="1" height="44" fill="#C0C0C0" />
<rect x="436" y="514" width="1" height="46" fill="#C0C0C0" />
<rect x="444" y="509" width="1" height="51" fill="#C0C0C0" />
<rect x="452" y="506" width="1" height="54" fill="#C0C0C0" />
<rect x="460" y="505" width="1" height="55" fill="#C0C0C0" />
<rect x="468" y="498" width="1" height="62" fill="#C0C0C0" />
<rect x="476" y="496" width="1" height="64" fill="#C0C0C0" />
<rect x="484" y="493" width="1" height="67" fill="#C0C0C0" />
<rect x="492" y="480" width="1" height="80" fill="#C0C0C0" />
<rect x="500" y="470" width="1" height="90" fill="#C0C0C0" />
<rect x="508" y="463" width="1" height="97" fill="#C0C0C0" />
<rect x="516" y="455" width="1" height="105" fill="#C0C0C0" />
<rect x="524" y="449" width="1" height="111" fill="#C0C0C0" />
<rect x="532" y="447" width="1" height="113" fill="#C0C0C0" />
<rect x="540" y="446" width="1" height="114" fill="#C0C0C0" />
<rect x="548" y="444" width="1" height="116" fill="#C0C0C0" />
<rect x="556" y="442" width="1" height="118" fill="#C0C0C0" />
<rect x="564" y="452" width="1" height="108" fill="#C0C0C0" />
<rect x="572" y="460" width="1" height="100" fill="#C0C0C0" />
<rect x="580" y="467" width="1" height="93" fill="#C0C0C0" />
<rect x="588" y="474" width="1" height="86" fill="#C0C0C0" />
<rect x="596" y="480" width="1" height="80" fill="#C0C0C0" />
<rect x="604" y="486" width="1" height="74" fill="#C0C0C0" />
<rect x="612" y="488" width="1" height="72" fill="#C0C0C0" />
<rect x="620" y="492" width="1" height="68" fill="#C0C0C0" />
<rect x="628" y="494" width="1" height="66" fill="#C0C0C0" />
<rect x="636" y="500" width="1" height="60" fill="#C0C0C0" />
<rect x="644" y="505" width="1" height="55" fill="#C0C0C0" />
<rect x="652" y="513" width="1" height="47" fill="#C0C0C0" />
<rect x="660" y="520" width="1" height="40" fill="#C0C0C0" />
<rect x="668" y="522" width="1" height="38" fill="#C0C0C0" />
<rect x="676" y="523" width="1" height="37" fill="#C0C0C0" />
<rect x="684" y="527" width="1" height="33" fill="#C0C0C0" />
<rect x="692" y="531" width="1" height="29" fill="#C0C0C0" />
<rect x="700" y="529" width="1" height="31" fill="#C0C0C0" />
<rect x="708" y="531" width="1" height="29" fill="#C0C0C0" />
<rect x="716" y="537" width="1" height="23" fill="#C0C0C0" />
<rect x="724" y="542" width="1" height="18" fill="#C0C0C0" />
<rect x="732" y="547" width="1" height="13" fill="#C0C0C0" />
<rect x="740" y="553" width="1" height="7" fill="#C0C0C0" />
<rect x="748" y="554" width="1" height="6" fill="#C0C0C0" />
<rect x="756" y="556" width="1" height="4" fill="#C0C0C0" />
<rect x="764" y="548" width="1" height="12" fill="#C0C0C0" />
<rect x="772" y="545" width="1" height="15" fill="#C0C0C0" />
<rect x="780" y="544" width="1" height="16" fill="#C0C0C0" />
<rect x="788" y="541" width="1" height="19" fill="#C0C0C0" />
<rect x="796" y="537" width="1" height="23" fill="#C0C0C0" />
<rect x="804" y="538" width="1" height="22" fill="#C0C0C0" />
<rect x="812" y="535" width="1" height="25" fill="#C0C0C0" />
<rect x="820" y="531" width="1" height="29" fill="#C0C0C0" />
<rect x="828" y="528" width="1" height="32" fill="#C0C0C0" />
<rect x="836" y="518" width="1" height="42" fill="#C0C0C0" />
<rect x="844" y="509" width="1" height="51" fill="#C0C0C0" />
<rect x="852" y="508" width="1" height="52" fill="#C0C0C0" />
<rect x="860" y="510" width="1" height="50" fill="#C0C0C0" />
<rect x="868" y="511" width="1" height="49" fill="#C0C0C0" />
<rect x="876" y="512" width="1" height="48" fill="#C0C0C0" />
<rect x="884" y="515" width="1" height="45" fill="#C0C0C0" />
<rect x="892" y="516" width="1" height="44" fill="#C0C0C0" />
<rect x="900" y="518" width="1" height="42" fill="#C0C0C0" />
<rect x="908" y="523" width="1" height="37" fill="#C0C0C0" />
<rect x="916" y="526" width="1" height="34" fill="#C0C0C0" />
<rect x="924" y="530" width="1" height="30" fill="#C0C0C0" />
<rect x="932" y="534" width="1" height="26" fill="#C0C0C0" />
<rect x="940" y="540" width="1" height="20" fill="#C0C0C0" />
<rect x="948" y="542" width="1" height="18" fill="#C0C0C0" />
<rect x="956" y="544" width="1" height="16" fill="#C0C0C0" />
<rect x="964" y="546" width="1" height="14" fill="#C0C0C0" />
<rect x="972" y="545" width="1" height="15" fill="#C0C0C0" />
<rect x="980" y="546" width="1" height="14" fill="#C0C0C0" />
<rect x="988" y="548" width="1" height="12" fill="#C0C0C0" />
<rect x="996" y="543" width="1" height="17" fill="#C0C0C0" />
<rect x="1004" y="544" width="1" height="16" fill="#C0C0C0" />
<rect x="1012" y="544" width="1" height="16" fill="#C0C0C0" />
<rect x="1020" y="544" width="1" height="16" fill="#C0C0C0" />
<rect x="1028" y="545" width="1" height="15" fill="#C0C0C0" />
<rect x="1036" y="545" width="1" height="15" fill="#C0C0C0" />
<rect x="1044" y="544" width="1" height="16" fill="#C0C0C0" />
<rect x="1052" y="540" width="1" height="20" fill="#C0C0C0" />
<rect x="1060" y="527" width="1" height="33" fill="#C0C0C0" />
<rect x="1068" y="520" width="1" height="40" fill="#C0C0C0" />
<rect x="1076" y="515" width="1" height="45" fill="#C0C0C0" />
<rect x="1084" y="512" width="1" height="48" fill="#C0C0C0" />
<rect x="1092" y="512" width="1" height="48" fill="#C0C0C0" />
<rect x="1100" y="511" width="1" height="49" fill="#C0C0C0" />
<rect x="1108" y="514" width="1" height="46" fill="#C0C0C0" />
<rect x="1116" y="516" width="1" height="44" fill="#C0C0C0" />
<rect x="1124" y="519" width="1" height="41" fill="#C0C0C0" />
<rect x="1132" y="521" width="1" height="39" fill="#C0C0C0" />
<rect x="1140" y="521" width="1" height="39" fill="#C0C0C0" />
<rect x="1148" y="519" width="1" height="41" fill="#C0C0C0" />
<rect x="1156" y="517" width="1" height="43" fill="#C0C0C0" />
<rect x="1164" y="526" width="1" height="34" fill="#C0C0C0" />
<rect x="1172" y="526" width="1" height="34" fill="#C0C0C0" />
<rect x="1180" y="527" width="1" height="33" fill="#C0C0C0" />
<rect x="1188" y="528" width="1" height="32" fill="#C0C0C0" />
</g>
<polyline shape-rendering="crispEdges" clip-path="url(#cd)" points="4.4,494.1 25.6,474.9 43.5,460.8 61.4,451.1 76.8,449.3 89.6,451.9 107.5,462.1 128.0,478.8 153.6,503.1 174.1,522.3 189.5,530.0 204.8,532.0 220.2,531.2 235.5,528.7 252.2,526.9 276.5,529.5 309.8,528.7 343.3,528.2 358.6,528.2 365.0,530.5 397.0,534.3 420.1,531.2 438.0,526.1 453.4,519.7 468.7,512.6 484.1,505.6 499.5,497.2 514.8,485.2 532.7,471.1 548.1,460.8 563.5,451.4 580.1,450.1 596.7,457.0 614.7,466.0 630.0,477.5 635.4,481.3 658.4,496.2 684.0,509.5 709.6,522.3 735.2,533.8 755.7,541.5 773.6,545.3 789.0,547.4 804.3,545.3 819.7,541.5 837.6,533.8 855.5,524.8 876.0,517.2 888.8,514.1 901.6,512.8 917.0,514.6 940.0,523.6 950.5,527.4 971.0,535.9 988.9,541.5 1004.2,543.3 1042.6,543.3 1060.6,540.2 1075.9,534.6 1091.3,528.2 1109.2,521.0 1123.3,515.4 1147.6,515.4 1165.5,517.2 1173.2,519.7 1186.0,520.5 1188.6,522.8" fill="none" stroke="#FF0000" stroke-width="1.1" stroke-dasharray="5,3"/>
<text transform="translate(7.4,443.3) scale(0.92,1)" font-size="9.8" fill="#000" stroke="#000" stroke-width="0.22" text-rendering="geometricPrecision" textLength="139" lengthAdjust="spacing">MACD(12,26,9) 0.2923 0.3413</text>
<rect x="1210" y="432" width="2" height="1" fill="#000" />
<text transform="translate(1213.8,441) scale(0.92,1)" font-size="9.8" fill="#000" stroke="#000" stroke-width="0.22" text-rendering="geometricPrecision" >1.1717</text>
<rect x="1210" y="559" width="2" height="1" fill="#000" />
<text transform="translate(1215.8,558) scale(0.92,1)" font-size="9.8" fill="#000" stroke="#000" stroke-width="0.22" text-rendering="geometricPrecision" >0.0172</text>
<clipPath id="cg"><rect x="1211" y="554.5" width="22" height="6.5"/></clipPath>
<g clip-path="url(#cg)"><text x="1212" y="562.5" font-size="9" fill="#000">0.00</text></g>
<g shape-rendering="crispEdges">
<line x1="4" x2="1209" y1="598.5" y2="598.5" stroke="#C0C0C0" stroke-width="1" stroke-dasharray="3,3"/>
<line x1="4" x2="1209" y1="643.5" y2="643.5" stroke="#C0C0C0" stroke-width="1" stroke-dasharray="3,3"/>
</g>
<polyline shape-rendering="crispEdges" points="4.5,598.5 12.5,596.4 20.5,596.4 28.5,593.3 36.5,592.1 44.5,596.9 52.5,605.4 60.5,607.4 68.5,606.1 76.5,607.9 84.5,611.3 92.5,604.6 100.5,615.1 108.5,617.4 116.5,620.2 124.5,619.4 132.5,621.2 140.5,621.2 148.5,622.5 156.5,623.5 164.5,619.4 172.5,617.4 180.5,613.0 188.5,607.2 196.5,603.6 204.5,611.3 212.5,611.3 220.5,608.7 228.5,615.6 236.5,615.6 244.5,621.2 252.5,614.3 260.5,615.6 268.5,616.4 276.5,612.3 284.5,604.6 292.5,605.9 300.5,613.0 308.5,615.1 316.5,614.3 324.5,616.4 332.5,613.0 340.5,618.7 348.5,613.0 356.5,617.4 364.5,615.6 372.5,612.3 380.5,613.0 388.5,614.3 396.5,605.4 404.5,604.1 412.5,603.3 420.5,603.3 428.5,597.2 436.5,603.3 444.5,599.0 452.5,598.2 460.5,601.5 468.5,594.4 476.5,599.5 484.5,596.9 492.5,588.2 500.5,587.4 508.5,587.4 516.5,585.4 524.5,585.4 532.5,587.4 540.5,587.4 548.5,585.4 556.5,584.1 564.5,608.4 572.5,607.4 580.5,606.1 588.5,607.4 596.5,607.4 604.5,608.4 612.5,603.3 620.5,605.4 628.5,603.3 636.5,612.3 644.5,612.3 652.5,620.2 660.5,618.2 668.5,613.8 676.5,610.5 684.5,617.4 692.5,619.4 700.5,609.2 708.5,616.9 716.5,621.2 724.5,623.3 732.5,625.1 740.5,627.1 748.5,620.2 756.5,622.0 764.5,608.4 772.5,613.0 780.5,615.6 788.5,613.0 796.5,609.2 804.5,617.4 812.5,613.0 820.5,609.7 828.5,608.4 836.5,601.5 844.5,599.0 852.5,607.4 860.5,613.6 868.5,611.3 876.5,611.3 884.5,612.5 892.5,611.3 900.5,611.3 908.5,617.4 916.5,615.6 924.5,618.2 932.5,619.4 940.5,624.1 948.5,618.2 956.5,620.2 964.5,618.7 972.5,615.1 980.5,618.2 988.5,619.4 996.5,608.4 1004.5,615.1 1012.5,614.3 1020.5,617.4 1028.5,617.4 1036.5,614.3 1044.5,614.3 1052.5,607.2 1060.5,594.4 1068.5,601.5 1076.5,601.5 1084.5,602.3 1092.5,605.4 1100.5,604.6 1108.5,611.3 1116.5,610.5 1124.5,611.3 1132.5,609.2 1140.5,607.4 1148.5,601.5 1156.5,602.3 1164.5,624.1 1172.5,613.6 1180.5,612.3 1188.5,612.3" fill="none" stroke="#1E90FF" stroke-width="1"/>
<text transform="translate(7.4,576.3) scale(0.92,1)" font-size="9.8" fill="#000" stroke="#000" stroke-width="0.22" text-rendering="geometricPrecision" textLength="74.8" lengthAdjust="spacing">RSI(14) 57.1864</text>
<text transform="translate(1213.2,574) scale(0.92,1)" font-size="9.8" fill="#000" stroke="#000" stroke-width="0.22" text-rendering="geometricPrecision" >100</text>
<text transform="translate(1213.2,602) scale(0.92,1)" font-size="9.8" fill="#000" stroke="#000" stroke-width="0.22" text-rendering="geometricPrecision" >70</text>
<text transform="translate(1213.2,647) scale(0.92,1)" font-size="9.8" fill="#000" stroke="#000" stroke-width="0.22" text-rendering="geometricPrecision" >30</text>
<text transform="translate(1213.2,674) scale(0.92,1)" font-size="9.8" fill="#000" stroke="#000" stroke-width="0.22" text-rendering="geometricPrecision" >0</text>
<rect x="1210" y="565" width="2" height="1" fill="#000" />
<rect x="1210" y="676" width="2" height="1" fill="#000" />
<rect x="4" y="678" width="1" height="3" fill="#000" />
<text transform="translate(2.8,690) scale(0.92,1)" font-size="9.8" fill="#000" stroke="#000" stroke-width="0.22" text-rendering="geometricPrecision" textLength="56.8" lengthAdjust="spacing">10 Nov 2020</text>
<rect x="68" y="678" width="1" height="3" fill="#000" />
<text transform="translate(66.8,690) scale(0.92,1)" font-size="9.8" fill="#000" stroke="#000" stroke-width="0.22" text-rendering="geometricPrecision" textLength="60.2" lengthAdjust="spacing">12 Nov 01:00</text>
<rect x="132" y="678" width="1" height="3" fill="#000" />
<text transform="translate(130.8,690) scale(0.92,1)" font-size="9.8" fill="#000" stroke="#000" stroke-width="0.22" text-rendering="geometricPrecision" textLength="60.2" lengthAdjust="spacing">13 Nov 09:00</text>
<rect x="196" y="678" width="1" height="3" fill="#000" />
<text transform="translate(194.8,690) scale(0.92,1)" font-size="9.8" fill="#000" stroke="#000" stroke-width="0.22" text-rendering="geometricPrecision" textLength="60.2" lengthAdjust="spacing">16 Nov 12:00</text>
<rect x="260" y="678" width="1" height="3" fill="#000" />
<text transform="translate(258.8,690) scale(0.92,1)" font-size="9.8" fill="#000" stroke="#000" stroke-width="0.22" text-rendering="geometricPrecision" textLength="60.2" lengthAdjust="spacing">17 Nov 21:00</text>
<rect x="324" y="678" width="1" height="3" fill="#000" />
<text transform="translate(322.8,690) scale(0.92,1)" font-size="9.8" fill="#000" stroke="#000" stroke-width="0.22" text-rendering="geometricPrecision" textLength="60.2" lengthAdjust="spacing">19 Nov 05:00</text>
<rect x="388" y="678" width="1" height="3" fill="#000" />
<text transform="translate(386.8,690) scale(0.92,1)" font-size="9.8" fill="#000" stroke="#000" stroke-width="0.22" text-rendering="geometricPrecision" textLength="60.2" lengthAdjust="spacing">20 Nov 13:00</text>
<rect x="452" y="678" width="1" height="3" fill="#000" />
<text transform="translate(450.8,690) scale(0.92,1)" font-size="9.8" fill="#000" stroke="#000" stroke-width="0.22" text-rendering="geometricPrecision" textLength="60.2" lengthAdjust="spacing">23 Nov 16:00</text>
<rect x="516" y="678" width="1" height="3" fill="#000" />
<text transform="translate(514.8,690) scale(0.92,1)" font-size="9.8" fill="#000" stroke="#000" stroke-width="0.22" text-rendering="geometricPrecision" textLength="60.2" lengthAdjust="spacing">25 Nov 01:00</text>
<rect x="580" y="678" width="1" height="3" fill="#000" />
<text transform="translate(578.8,690) scale(0.92,1)" font-size="9.8" fill="#000" stroke="#000" stroke-width="0.22" text-rendering="geometricPrecision" textLength="60.2" lengthAdjust="spacing">26 Nov 13:00</text>
<rect x="644" y="678" width="1" height="3" fill="#000" />
<text transform="translate(642.8,690) scale(0.92,1)" font-size="9.8" fill="#000" stroke="#000" stroke-width="0.22" text-rendering="geometricPrecision" textLength="60.2" lengthAdjust="spacing">30 Nov 00:00</text>
<rect x="708" y="678" width="1" height="3" fill="#000" />
<text transform="translate(706.8,690) scale(0.92,1)" font-size="9.8" fill="#000" stroke="#000" stroke-width="0.22" text-rendering="geometricPrecision" textLength="53.3" lengthAdjust="spacing">1 Dec 09:00</text>
<rect x="772" y="678" width="1" height="3" fill="#000" />
<text transform="translate(770.8,690) scale(0.92,1)" font-size="9.8" fill="#000" stroke="#000" stroke-width="0.22" text-rendering="geometricPrecision" textLength="53.3" lengthAdjust="spacing">2 Dec 17:00</text>
<rect x="836" y="678" width="1" height="3" fill="#000" />
<text transform="translate(834.8,690) scale(0.92,1)" font-size="9.8" fill="#000" stroke="#000" stroke-width="0.22" text-rendering="geometricPrecision" textLength="53.3" lengthAdjust="spacing">4 Dec 01:00</text>
<rect x="900" y="678" width="1" height="3" fill="#000" />
<text transform="translate(898.8,690) scale(0.92,1)" font-size="9.8" fill="#000" stroke="#000" stroke-width="0.22" text-rendering="geometricPrecision" textLength="53.3" lengthAdjust="spacing">7 Dec 04:00</text>
<rect x="964" y="678" width="1" height="3" fill="#000" />
<text transform="translate(962.8,690) scale(0.92,1)" font-size="9.8" fill="#000" stroke="#000" stroke-width="0.22" text-rendering="geometricPrecision" textLength="53.3" lengthAdjust="spacing">8 Dec 13:00</text>
<rect x="1028" y="678" width="1" height="3" fill="#000" />
<text transform="translate(1026.8,690) scale(0.92,1)" font-size="9.8" fill="#000" stroke="#000" stroke-width="0.22" text-rendering="geometricPrecision" textLength="53.3" lengthAdjust="spacing">9 Dec 21:00</text>
<rect x="1092" y="678" width="1" height="3" fill="#000" />
<text transform="translate(1090.8,690) scale(0.92,1)" font-size="9.8" fill="#000" stroke="#000" stroke-width="0.22" text-rendering="geometricPrecision" textLength="58.6" lengthAdjust="spacing">11 Dec 05:00</text>
<rect x="1156" y="678" width="1" height="3" fill="#000" />
<text transform="translate(1154.8,690) scale(0.92,1)" font-size="9.8" fill="#000" stroke="#000" stroke-width="0.22" text-rendering="geometricPrecision" textLength="58.6" lengthAdjust="spacing">14 Dec 08:00</text>
</svg>
</body></html>
